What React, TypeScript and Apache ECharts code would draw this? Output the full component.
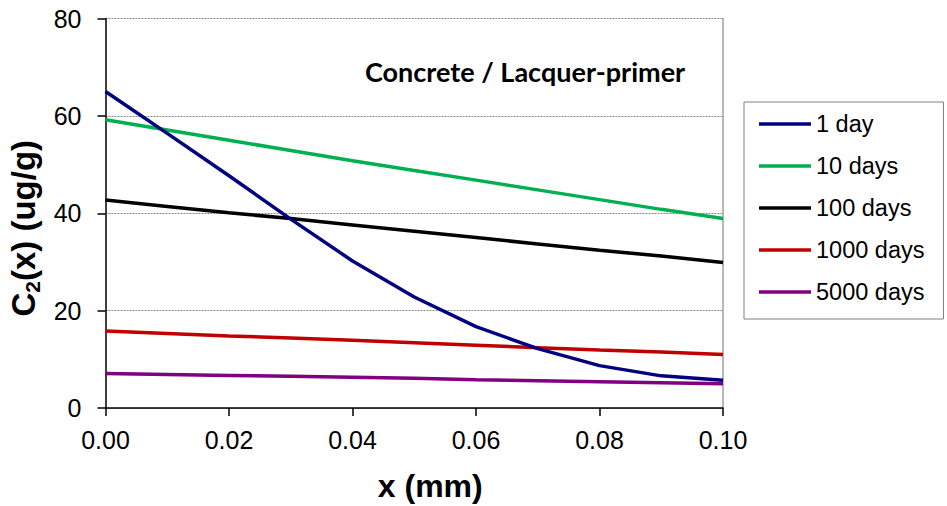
import React, { useEffect, useRef } from "react";
import * as echarts from "echarts";

const xValues = [0, 0.01, 0.02, 0.03, 0.04, 0.05, 0.06, 0.07, 0.08, 0.09, 0.1];
const day1 = [65.0, 56.4, 47.7, 38.8, 30.2, 22.8, 16.7, 12.2, 8.7, 6.6, 5.7];
const days10 = [59.2, 57.1, 55.0, 52.9, 50.8, 48.8, 46.8, 44.8, 42.8, 40.8, 38.9];
const days100 = [42.7, 41.4, 40.1, 38.9, 37.6, 36.3, 35.0, 33.7, 32.4, 31.2, 29.9];
const days1000 = [15.8, 15.3, 14.8, 14.4, 13.9, 13.4, 12.9, 12.4, 11.9, 11.5, 11.0];
const days5000 = [7.1, 6.9, 6.7, 6.5, 6.3, 6.1, 5.8, 5.6, 5.4, 5.2, 5.0];

const seriesNames = ["1 day", "10 days", "100 days", "1000 days", "5000 days"];
const seriesData = [day1, days10, days100, days1000, days5000];
const colors = ["#000080", "#00B050", "#000000", "#C00000", "#800080"];

export default function App() {
  const ref = useRef<HTMLDivElement>(null);
  useEffect(() => {
    if (!ref.current) return;
    const chart = echarts.init(ref.current, undefined, { renderer: "svg" });
    const font = "'Liberation Sans', Arial, sans-serif";
    chart.setOption({
      animation: false,
      grid: { left: 105.5, right: 224, top: 18.5, bottom: 98, outerBoundsMode: "none", containLabel: false },
      title: {
        text: "Concrete / Lacquer-primer",
        left: 360,
        top: 53,
        textStyle: { fontFamily: "Lato", fontWeight: "bold", fontSize: 27, color: "#000" },
      },
      legend: {
        orient: "vertical",
        left: 744,
        top: 102,
        padding: [10, 19, 15, 15],
        borderColor: "#808080",
        borderWidth: 1,
        itemWidth: 52,
        itemHeight: 3.5,
        itemGap: 18,
        icon: "rect",
        textStyle: { fontFamily: font, fontSize: 23.5, color: "#000", lineHeight: 20 },
        data: seriesNames,
      },
      xAxis: {
        type: "value",
        min: 0,
        max: 0.1,
        interval: 0.02,
        name: "x (mm)",
        nameLocation: "middle",
        nameGap: 62,
        nameTextStyle: { fontFamily: font, fontWeight: "bold", fontSize: 32, color: "#000", padding: [0, 0, 0, 32] },
        axisLine: { show: true, lineStyle: { color: "#000", width: 1.5 } },
        axisTick: { show: true, length: 8, lineStyle: { color: "#000", width: 1.5 } },
        axisLabel: {
          margin: 19,
          fontFamily: font,
          fontSize: 25,
          color: "#000",
          formatter: (v: number) => v.toFixed(2),
        },
        splitLine: { show: false },
      },
      yAxis: [
        {
          type: "value",
          min: 0,
          max: 80,
          interval: 20,
          name: "{a|C}{s|2}{a|(x) (ug/g)}",
          nameLocation: "middle",
          nameGap: 60,
          nameRotate: 90,
          nameTextStyle: {
            padding: [0, 30, 0, 0],
            rich: {
              a: { fontFamily: font, fontWeight: "bold", fontSize: 33, color: "#000" },
              s: { fontFamily: font, fontWeight: "bold", fontSize: 21, color: "#000", padding: [18, 0, 0, 0] },
            },
          },
          axisLine: { show: true, lineStyle: { color: "#000", width: 1.5 } },
          axisTick: { show: true, length: 8, lineStyle: { color: "#000", width: 1.5 } },
          axisLabel: { margin: 24, fontFamily: font, fontSize: 25, color: "#000" },
          splitLine: { show: true, lineStyle: { color: "#888", type: [2, 1], width: 1 } },
        },
        {
          type: "value",
          min: 0,
          max: 80,
          interval: 20,
          position: "right",
          axisLine: { show: true, lineStyle: { color: "#A0A0A0", width: 1.5 } },
          axisTick: { show: false },
          axisLabel: { show: false },
          splitLine: { show: false },
        },
      ],
      series: seriesNames.map((name, i) => ({
        name,
        type: "line",
        yAxisIndex: 0,
        showSymbol: false,
        symbol: "none",
        data: xValues.map((x, j) => [x, seriesData[i][j]]),
        lineStyle: { color: colors[i], width: 3.5 },
        itemStyle: { color: colors[i] },
        z: 10 - i,
      })),
    });
    return () => chart.dispose();
  }, []);
  return <div ref={ref} style={{ width: 947, height: 506, position: "absolute", left: 0, top: 0 }} />;
}
